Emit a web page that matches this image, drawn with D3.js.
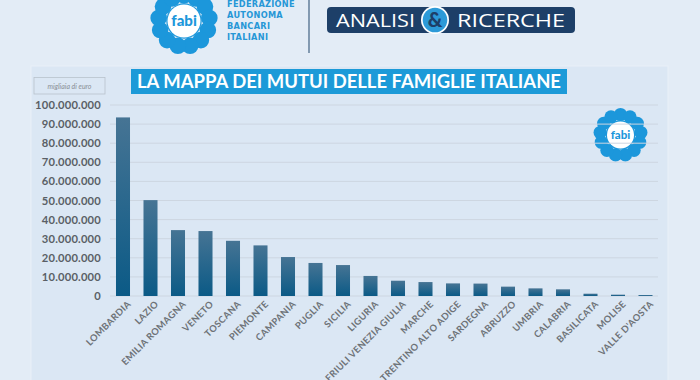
<!DOCTYPE html>
<html><head><meta charset="utf-8">
<script src="https://cdn.jsdelivr.net/npm/d3@7"></script>
<style>
html,body{margin:0;padding:0;background:#e3ecf6;}
svg{display:block;}
</style></head>
<body>
<svg id="c" width="700" height="380"></svg>
<script>
const regions = ["LOMBARDIA","LAZIO","EMILIA ROMAGNA","VENETO","TOSCANA","PIEMONTE","CAMPANIA","PUGLIA","SICILIA","LIGURIA","FRIULI VENEZIA GIULIA","MARCHE","TRENTINO ALTO ADIGE","SARDEGNA","ABRUZZO","UMBRIA","CALABRIA","BASILICATA","MOLISE","VALLE D'AOSTA"];
const mutui = [93500000,50200000,34500000,34000000,28900000,26500000,20400000,17300000,16200000,10500000,8000000,7300000,6600000,6500000,4900000,4000000,3500000,1200000,700000,500000];
const yTicks = [0,10000000,20000000,30000000,40000000,50000000,60000000,70000000,80000000,90000000,100000000];
const title = "LA MAPPA DEI MUTUI DELLE FAMIGLIE ITALIANE";
const unitLabel = "migliaia di euro";
const orgLines = ["FEDERAZIONE","AUTONOMA","BANCARI","ITALIANI"];

const svg = d3.select("#c");
const defs = svg.append("defs");
const grad = defs.append("linearGradient").attr("id","bg").attr("x1",0).attr("y1",0).attr("x2",0).attr("y2",1);
grad.append("stop").attr("offset","0%").attr("stop-color","#467494");
grad.append("stop").attr("offset","100%").attr("stop-color","#0b5a86");

// background
svg.append("rect").attr("width",700).attr("height",380).attr("fill","#e3ecf6");
svg.append("rect").attr("x",31).attr("y",66).attr("width",637).attr("height",320)
  .attr("fill","#dbe7f4").attr("stroke","#e9f0f8").attr("stroke-width",1);

// flower logos
function flower(g, cx, cy, rIn, rPetal, nP, petalDist, fs){
  const grp = g.append("g").attr("transform",`translate(${cx},${cy})`);
  for(let i=0;i<nP;i++){
    const a = i*2*Math.PI/nP - Math.PI/2;
    grp.append("circle").attr("cx",Math.cos(a)*petalDist).attr("cy",Math.sin(a)*petalDist).attr("r",rPetal).attr("fill","#1c97db");
  }
  grp.append("circle").attr("r",rIn+1.2).attr("fill","#1c97db");
  grp.append("circle").attr("r",rIn).attr("fill","#ffffff");
  grp.append("text").attr("text-anchor","middle").attr("dy","0.35em")
    .attr("font-family","Lato, sans-serif").attr("font-weight",900).attr("font-size",fs)
    .attr("fill","#1c97db").text("fabi");
}
flower(svg, 184, 21, 16.5, 8.3, 13, 25.5, 15);
flower(svg, 620.5, 135, 13.5, 6.6, 13, 20.5, 11.5);

const org = svg.append("g");
orgLines.forEach((t,i)=>{
  org.append("text").attr("x",227).attr("y",7+i*11).attr("font-family","DejaVu Sans, sans-serif")
    .attr("font-weight","bold").attr("font-size",8.2).attr("fill","#2697d6").attr("letter-spacing",0.3).text(t);
});
svg.append("line").attr("x1",309).attr("x2",309).attr("y1",0).attr("y2",53).attr("stroke","#4f6e8c").attr("stroke-width",1.3);

// badge
svg.append("rect").attr("x",327).attr("y",7).attr("width",248).attr("height",26).attr("rx",4).attr("fill","#1d3f68");
svg.append("text").attr("x",336).attr("y",27).attr("font-family","Open Sans, Lato, sans-serif").attr("font-size",19)
  .attr("fill","#ffffff").attr("textLength",79).attr("lengthAdjust","spacingAndGlyphs").text("ANALISI");
svg.append("circle").attr("cx",435).attr("cy",20).attr("r",14).attr("fill","#ffffff");
svg.append("circle").attr("cx",435).attr("cy",20).attr("r",12.3).attr("fill","#2c9ad8");
svg.append("text").attr("x",435).attr("y",27).attr("text-anchor","middle").attr("font-family","Lato, sans-serif")
  .attr("font-weight",900).attr("font-size",20).attr("fill","#1d3f68").text("&");
svg.append("text").attr("x",457).attr("y",27).attr("font-family","Open Sans, Lato, sans-serif").attr("font-size",19)
  .attr("fill","#ffffff").attr("textLength",108).attr("lengthAdjust","spacingAndGlyphs").text("RICERCHE");

// title
svg.append("rect").attr("x",131).attr("y",69).attr("width",436).attr("height",25).attr("fill","#1c9ad8");
svg.append("text").attr("x",349).attr("y",88).attr("text-anchor","middle").attr("font-family","Lato, sans-serif")
  .attr("font-weight",700).attr("font-size",18).attr("fill","#ffffff")
  .attr("textLength",424).attr("lengthAdjust","spacingAndGlyphs").text(title);

// unit box
svg.append("rect").attr("x",34).attr("y",77.5).attr("width",71).attr("height",16.5).attr("fill","none").attr("stroke","#b9c2cc").attr("stroke-width",0.8);
svg.append("text").attr("x",69.5).attr("y",89).attr("text-anchor","middle").attr("font-family","Lato, sans-serif")
  .attr("font-style","italic").attr("font-size",7).attr("fill","#8a8f96").text(unitLabel);

// scales
const x = d3.scaleBand().domain(regions).range([109.25, 659.25]).paddingInner(0.49).paddingOuter(0.245);
const y = d3.scaleLinear().domain([0,100000000]).range([296,105]);
const fmt = v => d3.format(",")(v).replace(/,/g,".");

// grid
svg.append("g").selectAll("line").data(yTicks).join("line")
  .attr("x1",110).attr("x2",658).attr("y1",d=>y(d)).attr("y2",d=>y(d))
  .attr("stroke","#cdd6e1").attr("stroke-width",1);

// y axis
const yAxis = svg.append("g").attr("transform","translate(101,0)")
  .call(d3.axisLeft(y).tickValues(yTicks).tickFormat(fmt).tickSize(0).tickPadding(0));
yAxis.select(".domain").remove();
yAxis.selectAll("text").attr("font-family","Lato, sans-serif").attr("font-weight",700)
  .attr("font-size",11.2).attr("fill","#5a5f66").attr("letter-spacing",0.2);

// bars
svg.append("g").selectAll("rect").data(mutui).join("rect")
  .attr("x",(d,i)=>x(regions[i])).attr("width",x.bandwidth())
  .attr("y",d=>y(d)).attr("height",d=>y(0)-y(d)).attr("fill","url(#bg)");

// x axis
const xAxis = svg.append("g").attr("transform","translate(4,300)")
  .call(d3.axisBottom(x).tickSize(0).tickPadding(0));
xAxis.select(".domain").remove();
xAxis.selectAll("text").attr("font-family","Lato, sans-serif").attr("font-weight",700).attr("font-size",9.3)
  .attr("letter-spacing",0.35)
  .attr("fill","#6d7277").attr("text-anchor","end").attr("dy","0.7em").attr("dx","0")
  .attr("transform","rotate(-45)");
</script>
</body></html>
